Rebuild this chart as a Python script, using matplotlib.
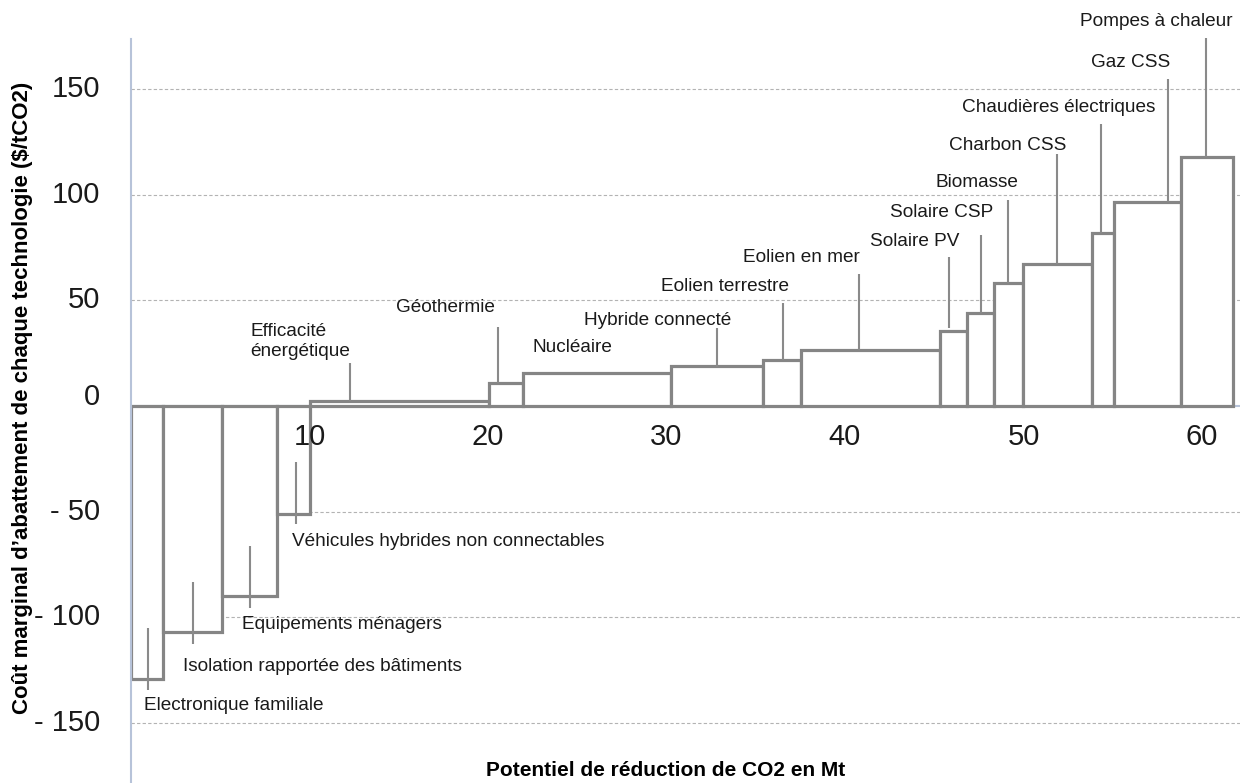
import numpy as np
import matplotlib
matplotlib.use("Agg")
import matplotlib.pyplot as plt

plt.rcParams["font.family"] = ["Liberation Sans", "DejaVu Sans"]

# --- data ---
TECHNOS = ["Electronique familiale", "Isolation rapportée des bâtiments",
           "Equipements ménagers", "Véhicules hybrides non connectables",
           "Efficacité\nénergétique", "Géothermie", "Nucléaire",
           "Hybride connecté", "Eolien terrestre", "Eolien en mer",
           "Solaire PV", "Solaire CSP", "Biomasse", "Charbon CSS",
           "Chaudières électriques", "Gaz CSS", "Pompes à chaleur"]
POTENTIEL = [1.8, 3.3, 3.1, 1.85, 10.0, 1.9, 8.3, 5.15, 2.15, 7.8,
             1.5, 1.5, 1.6, 3.9, 1.2, 3.8, 2.9]          # Mt
COUT = [-129, -107, -90, -51, 2.5, 11, 15.5, 19, 22, 26.5,
        35.5, 44, 58, 67, 82, 96.5, 118]                 # $/tCO2

X_TICKS = [10, 20, 30, 40, 50, 60]
Y_TICKS = [150, 100, 50, 0, -50, -100, -150]
Y_TICK_LABELS = ["150", "100", "50", "0", "- 50", "- 100", "- 150"]
GRID_Y = [150, 100, 50, -50, -100, -150]

# --- annotation layout: (line x, line top, line bottom, text x, text y, ha) ---
LABEL_LAYOUT = [
    (0.95, -105, -134.4, 0.73, -141.5, "left"),
    (3.47, -83.3, -112.6, 2.91, -123.5, "left"),
    (6.67, -66.3, -95.6, 6.22, -103.2, "left"),
    (9.24, -26.5, -55.8, 9.02, -63.9, "left"),
    (12.27, 20.4, None, 6.67, 30.5, "left"),
    (20.56, 37.4, None, 20.4, 46.4, "right"),
    (None, None, None, 22.47, 27.9, "left"),
    (32.83, 36.9, 18.5, 29.5, 40.7, "center"),
    (36.53, 48.7, None, 33.25, 56.8, "center"),
    (40.78, 62.5, None, 40.84, 70.5, "right"),
    (45.83, 70.5, 36.9, 46.39, 78.1, "right"),
    (47.62, 80.9, None, 48.29, 91.8, "right"),
    (49.13, 97.5, None, 49.69, 106.0, "right"),
    (51.88, 119.3, None, 52.38, 123.5, "right"),
    (54.34, 133.5, None, 57.37, 141.5, "right"),
    (58.10, 154.8, None, 58.2, 162.8, "right"),
    (60.22, 174.2, None, 61.74, 182.2, "right"),
]

EDGE = "#858585"
AXIS = "#b7c3d9"

fig = plt.figure(figsize=(12.42, 7.83), dpi=100)
ax = fig.add_axes([131 / 1242, 0, 1109 / 1242, 744 / 783])
ax.set_xlim(0, 62.13)
ax.set_ylim(-178.4, 173.7)

for g in GRID_Y:
    ax.axhline(g, color="#b3b3b3", lw=0.8, ls=(0, (3, 2)), zorder=0)
ax.axhline(0, color=AXIS, lw=1.5, zorder=1)

lefts = np.concatenate([[0], np.cumsum(POTENTIEL)[:-1]])
ax.bar(lefts, COUT, width=POTENTIEL, align="edge", facecolor="white",
       edgecolor=EDGE, linewidth=2.3, zorder=2)

for name, cost, (lx, ly0, ly1, tx, ty, ha) in zip(TECHNOS, COUT, LABEL_LAYOUT):
    if lx is not None:
        y1 = cost if ly1 is None else ly1
        ax.plot([lx, lx], [ly0, y1], color="#8a8a8a", lw=1.5, zorder=3,
                clip_on=False, solid_capstyle="butt")
    ax.text(tx, ty, name, ha=ha, va="center", fontsize=13.7, color="#1a1a1a",
            clip_on=False, zorder=4)

# axes decoration
for s in ["top", "right", "bottom"]:
    ax.spines[s].set_visible(False)
ax.spines["left"].set_color(AXIS)
ax.spines["left"].set_linewidth(1.5)
ax.set_xticks([])
ax.set_yticks([])

for v, lab in zip(Y_TICKS, Y_TICK_LABELS):
    yy = v + 4.3 if v == 0 else v
    ax.text(-31 / 1109, yy, lab, transform=ax.get_yaxis_transform(),
            ha="right", va="center", fontsize=21, color="#1a1a1a")
for v in X_TICKS:
    ax.text(v, -14.7, str(v), ha="center", va="center", fontsize=21,
            color="#1a1a1a")

fig.text(666 / 1242, 1 - 771 / 783, "Potentiel de réduction de CO2 en Mt",
         ha="center", va="center", fontsize=15, fontweight="bold")
fig.text(23 / 1242, 1 - 398 / 783,
         "Coût marginal d’abattement de chaque technologie ($/tCO2)",
         ha="center", va="center", rotation=90, fontsize=16,
         fontweight="bold")

fig.savefig("out.png", dpi=100, facecolor="white")
